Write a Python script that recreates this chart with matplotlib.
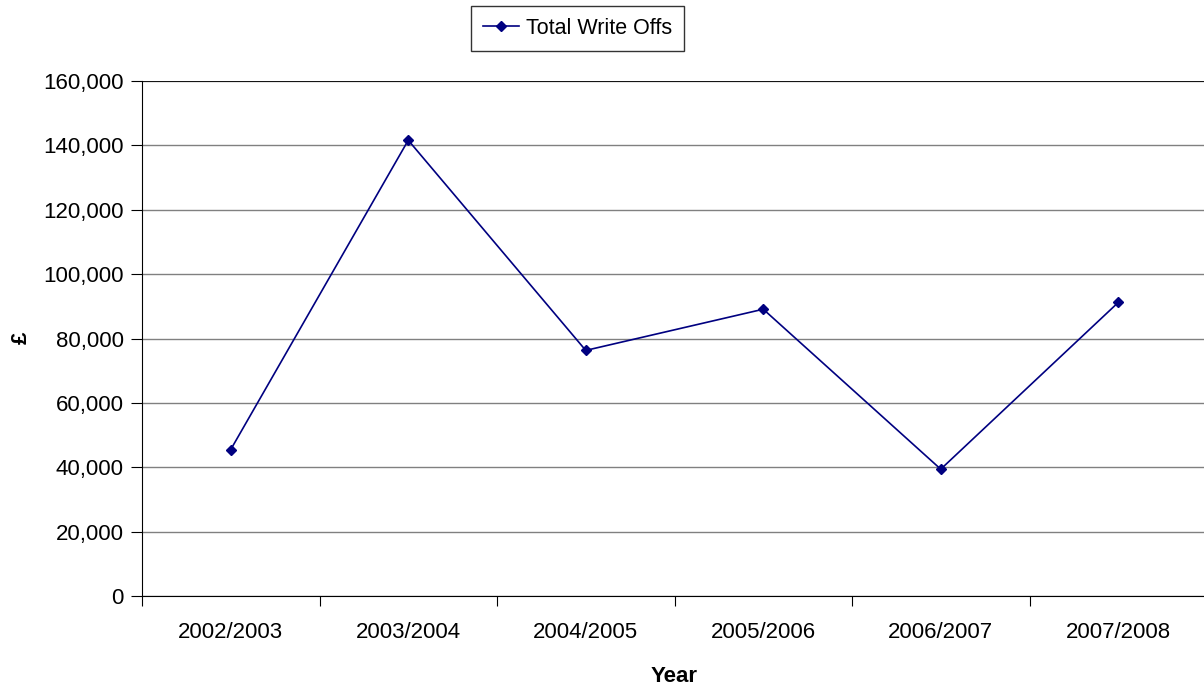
import matplotlib.pyplot as plt
import matplotlib.ticker as mticker

years = ['2002/2003', '2003/2004', '2004/2005', '2005/2006', '2006/2007', '2007/2008']
write_offs = [45500, 141600, 76300, 89100, 39400, 91200]

plt.rcParams['font.family'] = ['Liberation Sans', 'DejaVu Sans']

fig = plt.figure(figsize=(12.04, 6.89), dpi=100)
ax = fig.add_axes([142 / 1204, 1 - 596 / 689, (1207 - 142) / 1204, (596 - 81) / 689])

x = list(range(len(years)))
ax.plot(x, write_offs, color='#000080', linewidth=1.2, marker='D', markersize=5,
        label='Total Write Offs', clip_on=False, zorder=3)

ax.set_xlim(-0.5, len(years) - 0.5)
ax.set_ylim(0, 160000)
ax.yaxis.set_major_locator(mticker.MultipleLocator(20000))
ax.yaxis.set_major_formatter(mticker.FuncFormatter(lambda v, p: f'{v:,.0f}'))
ax.grid(axis='y', color='#808080', linewidth=1)
ax.set_axisbelow(True)

# category ticks sit between the labels
ax.set_xticks([i - 0.5 for i in range(len(years) + 1)])
ax.set_xticklabels([])
ax.set_xticks(x, minor=True)
ax.set_xticklabels(years, minor=True, fontsize=16)
ax.tick_params(axis='x', which='minor', length=0, pad=19)
ax.tick_params(axis='x', which='major', length=7, direction='out', color='black')
ax.tick_params(axis='y', length=8, labelsize=16, pad=5)

for side in ['top', 'right']:
    ax.spines[side].set_visible(False)
ax.spines['left'].set_color('black')
ax.spines['bottom'].set_color('black')
ax.axhline(160000, color='black', linewidth=1.2, zorder=2)

ax.set_xlabel('Year', fontsize=16, fontweight='bold', labelpad=16)
fig.text(21 / 1204, 1 - 338 / 689, '£', fontsize=16, fontweight='bold',
         rotation=90, ha='center', va='center')

leg = ax.legend(loc='upper left', bbox_to_anchor=(471 / 1204, 1 - 6 / 689),
                bbox_transform=fig.transFigure, fontsize=15.5, frameon=True,
                fancybox=False, edgecolor='black', borderpad=0.55, handlelength=1.7,
                handletextpad=0.3, borderaxespad=0)
leg.get_frame().set_linewidth(1)

fig.savefig('out.png', dpi=100)
